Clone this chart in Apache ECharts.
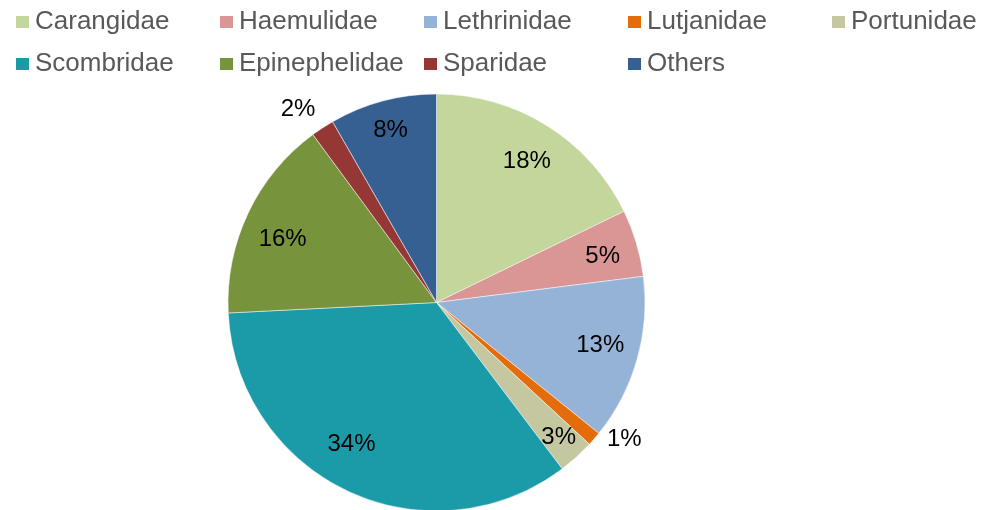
<!DOCTYPE html>
<html>
<head>
<meta charset="utf-8">
<script src="https://cdn.jsdelivr.net/npm/echarts@6/dist/echarts.min.js"></script>
<style>
  html, body { margin: 0; padding: 0; background: #fff; }
  #pieChart { width: 985px; height: 510px; }
</style>
</head>
<body>
<div id="pieChart"></div>
<script>
var familyNames = ['Carangidae', 'Haemulidae', 'Lethrinidae', 'Lutjanidae', 'Portunidae',
                   'Scombridae', 'Epinephelidae', 'Sparidae', 'Others'];
var catchShare = [17.8, 5.2, 12.8, 1.1, 2.8, 34.5, 15.7, 1.8, 8.3];
var familyColors = ['#C3D69B', '#D99694', '#95B3D7', '#E46C0A', '#C4C79F',
                    '#1B9AA8', '#77933C', '#953735', '#376092'];

init();

function init() {
  var font = '"Liberation Sans", Arial, sans-serif';
  var R = 208.5;
  var center = [436.5, 302.5];
  var smallLimit = 2.5;

  // small nudges so the labels sit where the original put them
  var nudge = {
    3: [10, -17], 7: [-10, 4], 4: [8, 9], 5: [-13, -12],
    6: [0, 10], 8: [-2, -8], 0: [0, 3], 1: [3, 2], 2: [0, -4]
  };

  var pieData = familyNames.map(function (n, i) {
    return { name: n, value: catchShare[i] };
  });

  // one legend per item so the columns line up like the original
  var legends = familyNames.map(function (n, i) {
    return {
      data: [n],
      left: 14 + (i % 5) * 204,
      top: i < 5 ? 9 : 51,
      padding: 0,
      itemWidth: 15,
      itemHeight: 14,
      icon: 'rect',
      selectedMode: false,
      textStyle: { fontFamily: font, fontSize: 26, color: '#595959' }
    };
  });

  // transparent copies of the pie, only used to place the labels
  var labelRing = function (radius, showSmall) {
    return {
      type: 'pie',
      silent: true,
      legendHoverLink: false,
      center: center,
      radius: radius,
      startAngle: 90,
      clockwise: true,
      percentPrecision: 0,
      itemStyle: { color: 'rgba(0,0,0,0)' },
      labelLine: { show: false },
      emphasis: { disabled: true },
      data: familyNames.map(function (n, i) {
        var small = catchShare[i] < smallLimit;
        return {
          name: n,
          value: catchShare[i],
          label: { show: showSmall ? small : !small }
        };
      }),
      label: {
        position: 'inside',
        formatter: '{d}%',
        fontFamily: font,
        fontSize: 24,
        color: '#000'
      },
      labelLayout: function (params) {
        var d = nudge[params.dataIndex];
        if (d) return { dx: d[0], dy: d[1] };
      }
    };
  };

  var pieChart = echarts.init(document.getElementById('pieChart'));
  pieChart.setOption({
    animation: false,
    color: familyColors,
    legend: legends,
    series: [
      {
        name: 'share',
        type: 'pie',
        center: center,
        radius: [0, R],
        startAngle: 90,
        clockwise: true,
        percentPrecision: 0,
        label: { show: false },
        labelLine: { show: false },
        itemStyle: { borderColor: '#fff', borderWidth: 0.5 },
        data: pieData
      },
      labelRing([126, R], false),
      labelRing([R, 255.5], true)
    ]
  });
}
</script>
</body>
</html>
